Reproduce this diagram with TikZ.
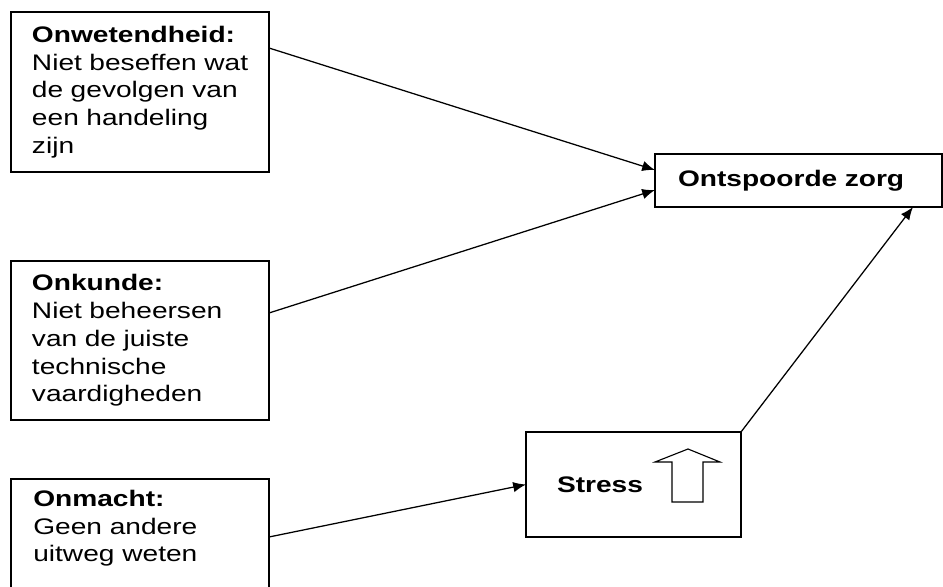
\documentclass[tikz,border=0pt]{standalone}
\usepackage{fontspec}
\setmainfont[FakeStretch=1.25]{Liberation Sans}
\usepackage{tikz}
\usetikzlibrary{arrows.meta, positioning, calc}

\begin{document}
\begin{tikzpicture}[
    cause/.style={rectangle, draw, line width=1.2pt, outer sep=0pt, minimum width=6.45cm, text width=5.4cm, inner xsep=0.525cm, align=left, anchor=north west, font=\fontsize{16}{19.7}\selectfont},
    result/.style={rectangle, draw, line width=1.2pt, outer sep=0pt, align=left, anchor=north west, font=\fontsize{16}{19.7}\selectfont\bfseries},
    arrow/.style={-{Latex[length=3.2mm, width=2.6mm]}, line width=0.9pt}
]
\useasboundingbox (0,0) rectangle (23.575,-14.675);

\node[cause, minimum height=4cm] (onwetendheid) at (0.275,-0.3) {\textbf{Onwetendheid:}\\\mbox{Niet beseffen wat}\\de gevolgen van\\een handeling\\zijn};
\node[cause, minimum height=3.975cm] (onkunde) at (0.275,-6.525) {\textbf{Onkunde:}\\Niet beheersen\\van de juiste\\technische\\vaardigheden};
\node[cause, minimum height=4cm] (onmacht) at (0.275,-11.975) {};
\node[anchor=north west, inner sep=0pt, align=left, font=\fontsize{16}{19.7}\selectfont] (onmachttekst) at ([shift={(0.55,-0.275)}]onmacht.north west) {\textbf{Onmacht:}\\Geen andere\\uitweg weten};

\node[result, minimum width=7.175cm, minimum height=1.325cm, text width=6.025cm, inner xsep=0.575cm] (ontspoorde) at (16.375,-3.85) {Ontspoorde zorg};
\node[result, minimum width=5.375cm, minimum height=2.625cm, text width=3.825cm, inner xsep=0.775cm] (stress) at (13.15,-10.8) {Stress};

% pijl omhoog in het stress-vak
\draw[line width=0.8pt] ([shift={(0.9625,-0.4375)}]stress.center) -- ++(0,1) -- ++(-0.425,0) -- ++(0.825,0.325) -- ++(0.8,-0.325) -- ++(-0.425,0) -- ++(0,-1) -- cycle;

\draw[arrow] ([yshift=-0.9cm]onwetendheid.north east) -- ([yshift=-0.4cm]ontspoorde.north west);
\draw[arrow] ([yshift=-1.3cm]onkunde.north east) -- ([yshift=-0.9cm]ontspoorde.north west);
\draw[arrow] ([yshift=-1.45cm]onmacht.north east) -- (stress.west);
\draw[arrow] (stress.north east) -- ([xshift=-0.725cm]ontspoorde.south east);
\end{tikzpicture}
\end{document}
